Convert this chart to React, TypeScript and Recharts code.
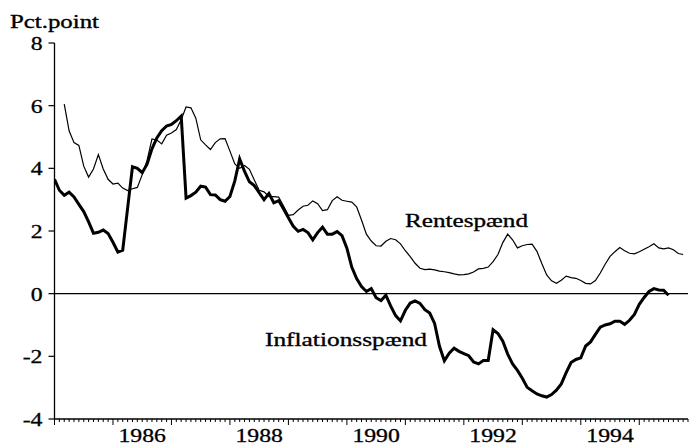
import React from 'react';
import { LineChart, Line, XAxis, YAxis, ReferenceLine } from 'recharts';

// Monthly observations, first value = January 1985
const startYear = 1985;
const inflationSpread = [
  3.65, 3.3, 3.14, 3.24, 3.09, 2.85, 2.62, 2.29, 1.93, 1.96,
  2.03, 1.92, 1.64, 1.33, 1.39, 2.72, 4.05, 4.0, 3.86, 4.13,
  4.62, 4.97, 5.2, 5.35, 5.4, 5.52, 5.67, 3.05, 3.13, 3.24,
  3.43, 3.4, 3.16, 3.15, 3.0, 2.95, 3.1, 3.6, 4.3, 3.9,
  3.57, 3.45, 3.22, 3.0, 3.2, 2.9, 2.97, 2.7, 2.42, 2.15,
  1.99, 2.05, 1.95, 1.72, 1.95, 2.12, 1.9, 1.9, 1.98, 1.85,
  1.45, 0.85, 0.48, 0.23, 0.07, 0.16, -0.13, -0.22, -0.05, -0.4,
  -0.7, -0.87, -0.53, -0.3, -0.23, -0.31, -0.51, -0.62, -0.95, -1.68,
  -2.14, -1.9, -1.74, -1.84, -1.91, -1.98, -2.18, -2.24, -2.13, -2.13,
  -1.15, -1.27, -1.52, -1.93, -2.24, -2.45, -2.7, -2.99, -3.1, -3.2,
  -3.26, -3.3, -3.22, -3.08, -2.88, -2.52, -2.2, -2.1, -2.05, -1.67,
  -1.54, -1.3, -1.07, -1.0, -0.96, -0.88, -0.88, -0.98, -0.85, -0.66,
  -0.34, -0.12, 0.07, 0.16, 0.12, 0.11, -0.05,
];

// Monthly observations, first value = March 1985
const interestStartOffset = 2;
const interestSpread = [
  6.05, 5.2, 4.82, 4.73, 4.07, 3.72, 3.98, 4.44,
  3.98, 3.65, 3.5, 3.53, 3.37, 3.29, 3.35, 3.39, 3.8, 4.25,
  4.94, 4.9, 4.78, 5.06, 5.13, 5.24, 5.55, 5.96, 5.93, 5.6,
  4.91, 4.75, 4.6, 4.82, 4.94, 4.95, 4.55, 4.14, 4.0, 4.09,
  3.97, 3.63, 3.3, 3.25, 3.1, 3.1, 3.08, 2.8, 2.5, 2.52,
  2.67, 2.79, 2.82, 2.96, 2.87, 2.65, 2.68, 2.97, 3.09, 2.98,
  2.95, 2.92, 2.77, 2.35, 1.9, 1.68, 1.53, 1.52, 1.67, 1.76,
  1.72, 1.59, 1.37, 1.18, 0.97, 0.81, 0.77, 0.78, 0.76, 0.72,
  0.7, 0.67, 0.63, 0.6, 0.61, 0.63, 0.69, 0.79, 0.81, 0.85,
  1.02, 1.25, 1.63, 1.9, 1.72, 1.46, 1.53, 1.57, 1.58, 1.35,
  0.96, 0.6, 0.41, 0.33, 0.43, 0.56, 0.51, 0.49, 0.42, 0.33,
  0.31, 0.42, 0.66, 0.94, 1.19, 1.34, 1.47, 1.37, 1.29, 1.27,
  1.34, 1.42, 1.5, 1.59, 1.46, 1.43, 1.46, 1.4, 1.28, 1.25,
];

const yearLabels = ['1986', '1988', '1990', '1992', '1994'];
const yTicks = [-4, -2, 0, 2, 4, 6, 8];
const totalMonths = 130;

const FONT = '"Liberation Serif", "Times New Roman", serif';
const STRETCH = 1.25;

const data = Array.from({ length: totalMonths }, (_, m) => {
  const ii = m - interestStartOffset;
  return {
    m,
    infl: m < inflationSpread.length ? inflationSpread[m] : null,
    rente: ii >= 0 && ii < interestSpread.length ? interestSpread[ii] : null,
  };
});

const monthTicks = Array.from({ length: totalMonths + 1 }, (_, m) => m);

const XTick = (props: any) => {
  const { x, y, payload } = props;
  const m = payload.value as number;
  const isYear = m % 12 === 0;
  let label: string | null = null;
  if (m % 12 === 6) {
    const yr = String(startYear + (m - 6) / 12);
    if (yearLabels.includes(yr)) label = yr;
  }
  return (
    <g>
      <line x1={x} x2={x} y1={y} y2={y + (isYear ? 6 : 3)} stroke="#000" strokeWidth={1} />
      {label && (
        <text
          transform={`translate(${x},${y + 23}) scale(${STRETCH},1)`}
          textAnchor="middle"
          fontFamily={FONT}
          fontSize={19}
          fill="#000"
          stroke="#000"
          strokeWidth={0.3}
        >
          {label}
        </text>
      )}
    </g>
  );
};

const YTick = (props: any) => {
  const { x, y, payload } = props;
  return (
    <text
      transform={`translate(${x},${y}) scale(${STRETCH},1)`}
      textAnchor="end"
      dy="0.36em"
      fontFamily={FONT}
      fontSize={19}
      fill="#000"
      stroke="#000"
      strokeWidth={0.3}
    >
      {String(payload.value)}
    </text>
  );
};

const annoStyle = { fontFamily: FONT, fontSize: 19.5, fill: '#000', stroke: '#000', strokeWidth: 0.35 } as const;

export default function App() {
  return (
    <div style={{ position: 'absolute', left: 0, top: 0, width: 693, height: 448, background: '#fff' }}>
      <LineChart
        width={693}
        height={448}
        data={data}
        margin={{ top: 43, right: 5, bottom: 0, left: 0 }}
      >
        <XAxis
          type="number"
          dataKey="m"
          domain={[0, totalMonths]}
          ticks={monthTicks}
          interval={0}
          tick={<XTick />}
          tickLine={false}
          tickSize={0}
          tickMargin={0}
          height={29}
          axisLine={{ stroke: '#000', strokeWidth: 1.3 }}
          allowDataOverflow
        />
        <YAxis
          type="number"
          domain={[-4, 8]}
          ticks={yTicks}
          interval={0}
          width={54.5}
          tickSize={6}
          tickMargin={6}
          tickLine={{ stroke: '#000', strokeWidth: 1.2 }}
          axisLine={{ stroke: '#000', strokeWidth: 1.3 }}
          tick={<YTick />}
        />
        <ReferenceLine y={0} stroke="#000" strokeWidth={1.3} />
        <Line
          type="linear"
          dataKey="rente"
          stroke="#000"
          strokeWidth={1.2}
          dot={false}
          isAnimationActive={false}
          connectNulls={false}
        />
        <Line
          type="linear"
          dataKey="infl"
          stroke="#000"
          strokeWidth={3}
          dot={false}
          isAnimationActive={false}
          connectNulls={false}
        />
      </LineChart>
      <svg
        width={693}
        height={448}
        style={{ position: 'absolute', left: 0, top: 0, pointerEvents: 'none' }}
      >
        <text x={10} y={28} {...annoStyle} textLength={89} lengthAdjust="spacingAndGlyphs">
          Pct.point
        </text>
        <text x={405} y={227} {...annoStyle} textLength={123} lengthAdjust="spacingAndGlyphs">
          Rentespænd
        </text>
        <text x={265} y={346} {...annoStyle} textLength={162} lengthAdjust="spacingAndGlyphs">
          Inflationsspænd
        </text>
      </svg>
    </div>
  );
}
